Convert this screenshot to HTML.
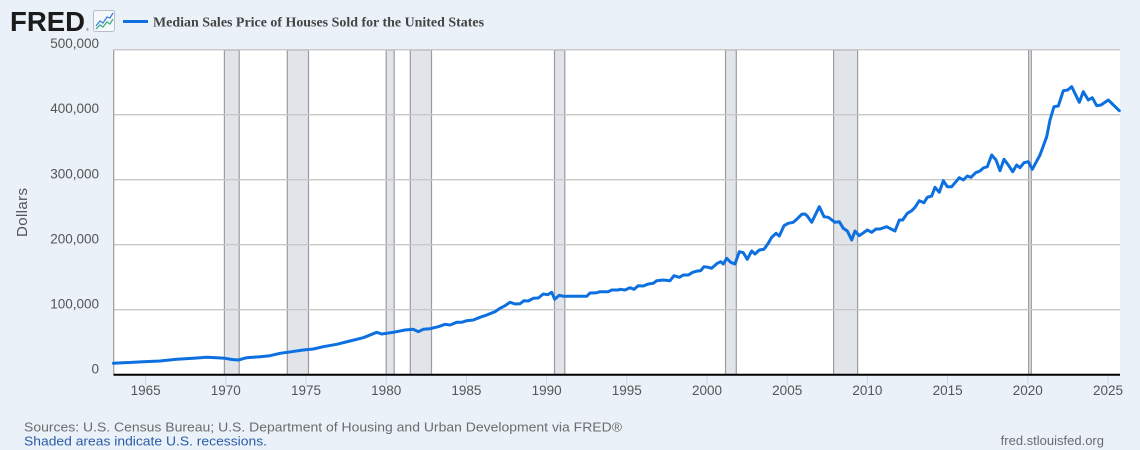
<!DOCTYPE html>
<html><head><meta charset="utf-8"><style>
html,body{margin:0;padding:0;background:#eaf1f9;}
svg{display:block;font-family:"Liberation Sans",Arial,sans-serif;}
</style></head><body>
<svg width="1140" height="450" viewBox="0 0 1140 450" xmlns="http://www.w3.org/2000/svg">
<rect x="0" y="0" width="1140" height="450" fill="#eaf1f9"/>
<!-- logo -->
<text x="10" y="31" font-size="28" font-weight="bold" fill="#1b1b1b" textLength="75" lengthAdjust="spacingAndGlyphs">FRED</text>
<text x="86" y="31" font-size="4" fill="#555">®</text>
<rect x="93.5" y="10.5" width="21" height="21" rx="2" fill="#f6f9fc" stroke="#b8bfc8" stroke-width="1"/>
<polyline points="96,26 100,21 103,23 107,17 110,18 113,13" fill="none" stroke="#3b82d6" stroke-width="1.3"/>
<polyline points="96,29 100,25 103,27 107,22 110,24 113,19" fill="none" stroke="#3fae8a" stroke-width="1.3"/>
<!-- legend -->
<line x1="123" y1="21.5" x2="148" y2="21.5" stroke="#0d70e0" stroke-width="3"/>
<text x="153" y="26.5" font-family="'Liberation Serif',serif" font-size="14" font-weight="bold" fill="#444" textLength="331" lengthAdjust="spacingAndGlyphs">Median Sales Price of Houses Sold for the United States</text>
<!-- plot area -->
<rect x="113.5" y="50" width="1006.5" height="324.7" fill="#ffffff"/>
<g fill="#e1e5ea" stroke="#9c9c9c" stroke-width="1.2">
<rect x="224.4" y="50" width="14.8" height="324.7"/>
<rect x="287.3" y="50" width="21.2" height="324.7"/>
<rect x="386.2" y="50" width="8" height="324.7"/>
<rect x="410.3" y="50" width="21.2" height="324.7"/>
<rect x="554.5" y="50" width="10.3" height="324.7"/>
<rect x="725.5" y="50" width="10.8" height="324.7"/>
<rect x="833.6" y="50" width="24" height="324.7"/>
<rect x="1028.6" y="50" width="2.7" height="324.7"/>
</g>
<g stroke="#c8c8c8" stroke-width="1.4">
<line x1="113.5" y1="49.7" x2="1120" y2="49.7"/>
<line x1="113.5" y1="114.7" x2="1120" y2="114.7"/>
<line x1="113.5" y1="179.7" x2="1120" y2="179.7"/>
<line x1="113.5" y1="244.7" x2="1120" y2="244.7"/>
<line x1="113.5" y1="309.7" x2="1120" y2="309.7"/>
</g>
<line x1="113.7" y1="50" x2="113.7" y2="374.7" stroke="#9c9c9c" stroke-width="1.2"/>
<!-- series -->
<polyline fill="none" stroke="#0d70e0" stroke-width="3" stroke-linejoin="round" stroke-linecap="round" points="
113.5,363.3 143.3,361.7 160,361 176.7,359.3 193.3,358.3 206.7,357.3 216.7,357.7 225,358.3 232,359.5 238.3,360 246.7,357.7 260,356.7 270,355.7 280,353.3 291.7,351.7 303.3,350 313.3,349 323.3,346.7 336.7,344.3 350,341 363.3,337.7 376.7,332.3 381.7,334 393.3,332.3 405,330 413.3,329.3 418.3,331.7 423.3,329.3 430,328.7 438.3,326.7 445,324.3 450,325 456.7,322.3 461.7,322.3 466.7,320.7 473.3,320 480,317.3 486.7,315 495,311.7 500,308.3 505,305.7 510,302.3 515,304 520,303.7 524,300.7 528.3,301 533.3,298.3 538.3,298 543.3,294 547.7,294.7 551.7,292.3 554.7,299.3 559.3,295.3 563.3,296.3 586.7,296.3 590,293 596.7,292.7 600,291.7 608.3,291.7 611.7,290 618.3,290 620,289.3 625,290 630,287.7 634,289.3 638.3,285.7 643.3,286 648.3,284 653.3,283.3 656.7,280.7 663.3,280 670,280.7 674,275.7 679.3,277.3 683.3,275 688.3,275 692.7,272.3 697.3,271 700.7,270.7 704,266.7 708.3,267.3 711.7,268.3 717.3,263.3 720.7,261.7 723.3,264 726.7,258.3 730.7,262.3 735,264 739.3,251.7 743.3,252.7 747.3,259.3 751.7,251 755,254 759.3,250 764,249.3 768.3,243.3 771.7,237.3 776,233.3 779.3,236 784,225.7 788.3,223.3 793.3,222.3 796.7,219.3 801.7,214.3 805,214 807.3,216 811.7,222.3 819.3,206.7 824,216.7 828.3,217.3 835,222.3 839.3,221.7 843.3,228.3 847.3,231 851.7,240 855,231 859.3,235.7 867.3,230 871.7,232.3 876,229 880,229 886.7,226.7 895,231 899.3,220 902.7,220 907.3,213.3 911.7,210.7 915,207.3 919.3,200.7 924,202.7 927.3,197.3 931.7,196 935,187.3 939.3,192.3 943.3,180.7 947.3,186.7 951.7,186.7 959.3,177.7 963.3,180 967.3,176 971,177.3 975.7,172.7 980,171 983.3,168 987.3,166.7 991.7,155 996,160 1000,170.7 1004,159.3 1008.3,165 1012.7,171.7 1016.7,165 1020,167.7 1024,162.7 1028.3,161.7 1032.3,169.3 1040,155 1046.7,136.7 1050,120 1054,106.7 1058.3,106 1063.3,90.7 1067.7,90 1071.7,86.7 1079.3,102.3 1083.3,91.7 1088.3,100 1092.3,97.7 1096.7,105.7 1101,105 1108.3,100 1119.3,110.7"/>
<!-- x axis -->
<line x1="113.5" y1="374.7" x2="1120" y2="374.7" stroke="#000" stroke-width="2"/>
<g stroke="#ccd6eb" stroke-width="1">
<line x1="145.6" y1="376" x2="145.6" y2="385"/>
<line x1="225.8" y1="376" x2="225.8" y2="385"/>
<line x1="306" y1="376" x2="306" y2="385"/>
<line x1="386.2" y1="376" x2="386.2" y2="385"/>
<line x1="466.4" y1="376" x2="466.4" y2="385"/>
<line x1="546.6" y1="376" x2="546.6" y2="385"/>
<line x1="626.8" y1="376" x2="626.8" y2="385"/>
<line x1="707" y1="376" x2="707" y2="385"/>
<line x1="787.2" y1="376" x2="787.2" y2="385"/>
<line x1="867.4" y1="376" x2="867.4" y2="385"/>
<line x1="947.6" y1="376" x2="947.6" y2="385"/>
<line x1="1027.8" y1="376" x2="1027.8" y2="385"/>
<line x1="1108" y1="376" x2="1108" y2="385"/>
</g>
<g font-size="13.5" fill="#555" text-anchor="middle">
<text x="145.6" y="395">1965</text>
<text x="225.8" y="395">1970</text>
<text x="306" y="395">1975</text>
<text x="386.2" y="395">1980</text>
<text x="466.4" y="395">1985</text>
<text x="546.6" y="395">1990</text>
<text x="626.8" y="395">1995</text>
<text x="707" y="395">2000</text>
<text x="787.2" y="395">2005</text>
<text x="867.4" y="395">2010</text>
<text x="947.6" y="395">2015</text>
<text x="1027.8" y="395">2020</text>
<text x="1108" y="395">2025</text>
</g>
<!-- y labels -->
<g font-size="13.5" fill="#555" text-anchor="end">
<text x="99" y="48">500,000</text>
<text x="99" y="113">400,000</text>
<text x="99" y="178.3">300,000</text>
<text x="99" y="243.3">200,000</text>
<text x="99" y="308.3">100,000</text>
<text x="99" y="373.3">0</text>
</g>
<text transform="translate(27,212.5) rotate(-90)" font-size="15" fill="#555" text-anchor="middle" textLength="49">Dollars</text>
<!-- footer -->
<text x="24" y="431.5" font-size="13" fill="#6b6b6b" textLength="598" lengthAdjust="spacingAndGlyphs">Sources: U.S. Census Bureau; U.S. Department of Housing and Urban Development via FRED®</text>
<text x="24" y="445.5" font-size="13" fill="#2a5ca8" textLength="243" lengthAdjust="spacingAndGlyphs">Shaded areas indicate U.S. recessions.</text>
<text x="1104" y="445" font-size="13" fill="#6b6b6b" text-anchor="end">fred.stlouisfed.org</text>
</svg>
</body></html>
